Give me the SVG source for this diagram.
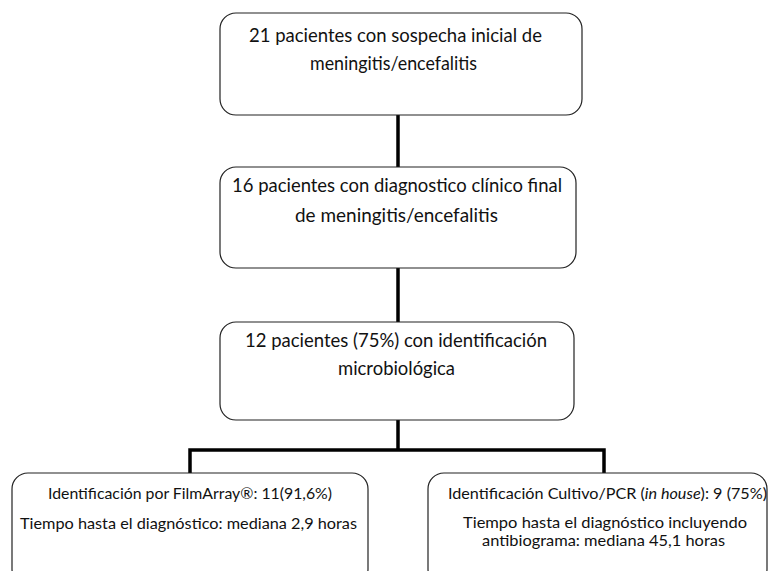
<svg xmlns="http://www.w3.org/2000/svg" width="770" height="571" viewBox="0 0 770 571">
<style>
.box{fill:#ffffff;stroke:#222222;stroke-width:1.2}
.t{font-family:Lato,"Open Sans","Liberation Sans",sans-serif;font-size:19px;fill:#111111}
.s{font-family:Lato,"Open Sans","Liberation Sans",sans-serif;font-size:16px;fill:#111111}
.c{fill:none;stroke:#000000;stroke-width:3.5}
</style>
<rect width="770" height="571" fill="#ffffff"/>
<g id="connectors">
<line class="c" x1="398" y1="115" x2="398" y2="168"/>
<line class="c" x1="398" y1="268" x2="398" y2="322"/>
<polyline class="c" points="398,420 398,450"/>
<polyline class="c" points="190,474 190,450 604,450 604,474"/>
</g>
<g id="n1">
<rect class="box" x="220" y="13" width="362" height="102" rx="16"/>
<text class="t" x="249" y="42" textLength="293" lengthAdjust="spacingAndGlyphs">21 pacientes con sospecha inicial de</text>
<text class="t" x="310" y="70" textLength="167" lengthAdjust="spacingAndGlyphs">meningitis/encefalitis</text>
</g>
<g id="n2">
<rect class="box" x="220" y="167" width="356" height="101" rx="16"/>
<text class="t" x="232" y="192" textLength="330" lengthAdjust="spacingAndGlyphs">16 pacientes con diagnostico clínico final</text>
<text class="t" x="295" y="222" textLength="203" lengthAdjust="spacingAndGlyphs">de  meningitis/encefalitis</text>
</g>
<g id="n3">
<rect class="box" x="220" y="322" width="354" height="98" rx="16"/>
<text class="t" x="245" y="347" textLength="302" lengthAdjust="spacingAndGlyphs">12 pacientes (75%) con identificación</text>
<text class="t" x="338" y="375" textLength="117" lengthAdjust="spacingAndGlyphs">microbiológica</text>
</g>
<g id="n4">
<rect class="box" x="12" y="473" width="356" height="112" rx="16"/>
<text class="s" x="48" y="499" textLength="284" lengthAdjust="spacingAndGlyphs">Identificación por FilmArray®: 11(91,6%)</text>
<text class="s" x="20" y="529" textLength="337" lengthAdjust="spacingAndGlyphs">Tiempo hasta el diagnóstico: mediana 2,9 horas</text>
</g>
<g id="n5">
<rect class="box" x="428" y="473" width="339" height="112" rx="16"/>
<text class="s" x="448" y="499" textLength="319" lengthAdjust="spacingAndGlyphs">Identificación Cultivo/PCR (<tspan font-style="italic">in house</tspan>): 9 (75%)</text>
<text class="s" x="463" y="528" textLength="284" lengthAdjust="spacingAndGlyphs">Tiempo hasta el diagnóstico  incluyendo</text>
<text class="s" x="482" y="546" textLength="243" lengthAdjust="spacingAndGlyphs">antibiograma: mediana 45,1 horas</text>
</g>
</svg>
